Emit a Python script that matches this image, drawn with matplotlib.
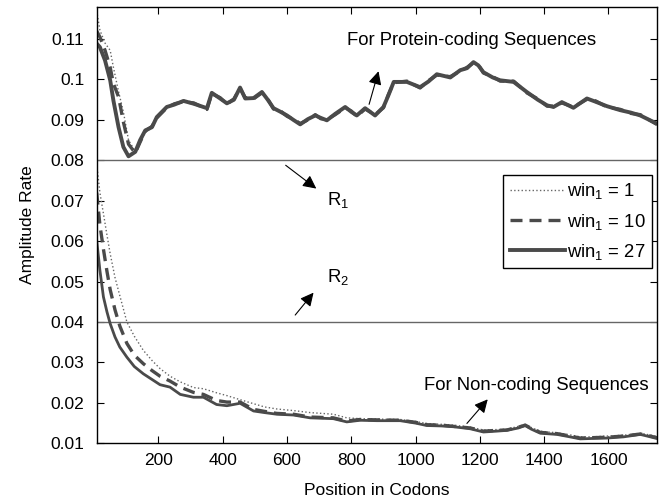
import matplotlib
matplotlib.use("Agg")
import matplotlib.pyplot as plt
from matplotlib.ticker import FormatStrFormatter

plt.rcParams["font.family"] = ["Liberation Sans", "DejaVu Sans"]
plt.rcParams["mathtext.fontset"] = "custom"
plt.rcParams["mathtext.rm"] = "Liberation Sans"

# protein-coding sequences (upper group)
pc_x = [8, 18, 34, 50, 60, 76, 91, 107, 128, 143, 159, 180, 195, 226, 250, 278, 310, 351,
        366, 392, 413, 435, 454, 470, 496, 522, 540, 558, 580, 600, 620, 641, 665, 688,
        705, 724, 750, 781, 800, 817, 843, 874, 900, 915, 932, 973, 1014, 1040, 1066,
        1108, 1139, 1160, 1180, 1195, 1211, 1240, 1263, 1305, 1346, 1380, 1409, 1429,
        1455, 1491, 1533, 1560, 1595, 1637, 1670, 1699, 1750]
pc_w27 = [0.1089, 0.1080, 0.1047, 0.0998, 0.0948, 0.0882, 0.0833, 0.0810, 0.0821, 0.0850,
          0.0874, 0.0882, 0.0907, 0.0932, 0.0938, 0.0947, 0.0940, 0.0929, 0.0967, 0.0953,
          0.0941, 0.0950, 0.0980, 0.0953, 0.0954, 0.0969, 0.0950, 0.0929, 0.0920, 0.0911,
          0.0900, 0.0889, 0.0902, 0.0911, 0.0905, 0.0899, 0.0915, 0.0932, 0.0920, 0.0911,
          0.0929, 0.0911, 0.0932, 0.0960, 0.0994, 0.0994, 0.0981, 0.0995, 0.1013, 0.1005,
          0.1023, 0.1028, 0.1043, 0.1035, 0.1018, 0.1005, 0.0998, 0.0994, 0.0969, 0.0950,
          0.0936, 0.0932, 0.0944, 0.0930, 0.0953, 0.0945, 0.0934, 0.0924, 0.0918, 0.0911,
          0.0891]
pc_w10 = [0.1120, 0.1105, 0.1072, 0.1030, 0.0990, 0.0957, 0.0895, 0.0840, 0.0818, 0.0845,
          0.0872, 0.0884, 0.0905, 0.0930, 0.0940, 0.0945, 0.0942, 0.0926, 0.0965, 0.0955,
          0.0939, 0.0952, 0.0978, 0.0955, 0.0952, 0.0967, 0.0952, 0.0927, 0.0922, 0.0909,
          0.0902, 0.0891, 0.0900, 0.0913, 0.0903, 0.0901, 0.0913, 0.0930, 0.0922, 0.0909,
          0.0927, 0.0913, 0.0930, 0.0962, 0.0992, 0.0996, 0.0979, 0.0997, 0.1011, 0.1007,
          0.1021, 0.1030, 0.1041, 0.1037, 0.1016, 0.1007, 0.0996, 0.0996, 0.0967, 0.0952,
          0.0934, 0.0934, 0.0942, 0.0932, 0.0951, 0.0947, 0.0932, 0.0926, 0.0916, 0.0913,
          0.0889]
pc_w1 = [0.1170, 0.1122, 0.1090, 0.1072, 0.1030, 0.0970, 0.0920, 0.0850, 0.0822, 0.0842,
         0.0870, 0.0886, 0.0903, 0.0934, 0.0936, 0.0949, 0.0938, 0.0931, 0.0969, 0.0951,
         0.0943, 0.0948, 0.0982, 0.0951, 0.0956, 0.0971, 0.0948, 0.0931, 0.0918, 0.0913,
         0.0898, 0.0891, 0.0904, 0.0909, 0.0907, 0.0897, 0.0917, 0.0934, 0.0918, 0.0913,
         0.0931, 0.0909, 0.0934, 0.0958, 0.0996, 0.0992, 0.0983, 0.0993, 0.1015, 0.1003,
         0.1025, 0.1026, 0.1045, 0.1033, 0.1020, 0.1003, 0.1000, 0.0992, 0.0971, 0.0948,
         0.0938, 0.0930, 0.0946, 0.0928, 0.0955, 0.0943, 0.0936, 0.0922, 0.0920, 0.0909,
         0.0893]

# non-coding sequences (lower group)
nc_x = [8, 18, 29, 40, 50, 65, 80, 102, 125, 153, 180, 205, 236, 268, 309, 340, 381, 413,
        454, 496, 530, 568, 620, 672, 744, 786, 827, 880, 952, 1000, 1035, 1080, 1118,
        1170, 1211, 1250, 1284, 1320, 1341, 1360, 1388, 1440, 1480, 1512, 1550, 1595,
        1647, 1699, 1720, 1750]
nc_w27 = [0.0602, 0.0528, 0.0462, 0.0425, 0.0396, 0.0363, 0.0338, 0.0313, 0.0290, 0.0272,
          0.0258, 0.0245, 0.0239, 0.0221, 0.0214, 0.0214, 0.0196, 0.0193, 0.0199, 0.0180,
          0.0176, 0.0172, 0.0170, 0.0163, 0.0161, 0.0153, 0.0157, 0.0156, 0.0156, 0.0150,
          0.0144, 0.0143, 0.0141, 0.0136, 0.0128, 0.0130, 0.0132, 0.0138, 0.0144, 0.0135,
          0.0125, 0.0122, 0.0116, 0.0111, 0.0112, 0.0113, 0.0116, 0.0122, 0.0118, 0.0112]
nc_w10 = [0.0720, 0.0640, 0.0580, 0.0525, 0.0480, 0.0430, 0.0390, 0.0347, 0.0318, 0.0297,
          0.0280, 0.0266, 0.0254, 0.0239, 0.0226, 0.0221, 0.0206, 0.0202, 0.0202, 0.0184,
          0.0179, 0.0174, 0.0172, 0.0165, 0.0163, 0.0155, 0.0159, 0.0158, 0.0157, 0.0152,
          0.0146, 0.0145, 0.0142, 0.0138, 0.0130, 0.0132, 0.0133, 0.0140, 0.0145, 0.0137,
          0.0127, 0.0124, 0.0118, 0.0113, 0.0114, 0.0115, 0.0118, 0.0123, 0.0120, 0.0114]
nc_w1 = [0.0790, 0.0720, 0.0668, 0.0615, 0.0569, 0.0510, 0.0465, 0.0400, 0.0365, 0.0330,
         0.0305, 0.0285, 0.0266, 0.0252, 0.0238, 0.0235, 0.0225, 0.0218, 0.0208, 0.0198,
         0.0190, 0.0185, 0.0181, 0.0176, 0.0172, 0.0163, 0.0161, 0.0160, 0.0159, 0.0154,
         0.0149, 0.0147, 0.0145, 0.0140, 0.0133, 0.0134, 0.0135, 0.0142, 0.0147, 0.0139,
         0.0130, 0.0126, 0.0121, 0.0116, 0.0116, 0.0118, 0.0120, 0.0125, 0.0122, 0.0117]

r1 = 0.08
r2 = 0.04
y_ticks = [0.01, 0.02, 0.03, 0.04, 0.05, 0.06, 0.07, 0.08, 0.09, 0.1, 0.11]
x_ticks = [200, 400, 600, 800, 1000, 1200, 1400, 1600]

fs = 12.5
fs_txt = 13.3
fig = plt.figure(figsize=(6.6, 4.98), dpi=100)
ax = fig.add_axes([0.1465, 0.1098, 0.8485, 0.8767])

col = "#4a4a4a"
ax.axhline(r1, color="#666666", lw=1.0)
ax.axhline(r2, color="#666666", lw=1.0)

ax.plot(pc_x, pc_w1, ls=":", color="#666666", lw=1.0, label="win$_1$ = 1")
ax.plot(pc_x, pc_w10, color=col, lw=2.4, dashes=(3.6, 2.1), label="win$_1$ = 10")
ax.plot(pc_x, pc_w27, color=col, lw=2.8, label="win$_1$ = 27")
ax.plot(nc_x, nc_w1, ls=":", color="#666666", lw=1.0)
ax.plot(nc_x, nc_w10, color=col, lw=2.4, dashes=(3.6, 2.1))
ax.plot(nc_x, nc_w27, color=col, lw=2.0)

ax.set_xlim(8, 1750)
ax.set_ylim(0.01, 0.118)
ax.set_xticks(x_ticks)
ax.set_yticks(y_ticks)
ax.yaxis.set_major_formatter(FormatStrFormatter("%g"))
ax.tick_params(direction="in", top=True, right=True, length=5, labelsize=fs, width=0.8)
ax.tick_params(axis="y", pad=9)
ax.tick_params(axis="x", pad=7)
for s in ax.spines.values():
    s.set_linewidth(1.0)

ax.set_xlabel("Position in Codons", fontsize=fs, labelpad=11)
ax.set_ylabel("Amplitude Rate", fontsize=fs, labelpad=11)

ap = dict(arrowstyle="-|>", color="k", lw=0.8, mutation_scale=20)
ax.text(786, 0.1097, "For Protein-coding Sequences", fontsize=fs_txt, va="center", ha="left")
ax.annotate("", xy=(887, 0.1027), xytext=(853, 0.0932), arrowprops=ap)
ax.text(725, 0.0701, "R$_1$", fontsize=fs_txt, va="center", ha="left")
ax.annotate("", xy=(698, 0.0726), xytext=(589, 0.0792), arrowprops=ap)
ax.text(725, 0.0511, "R$_2$", fontsize=fs_txt, va="center", ha="left")
ax.annotate("", xy=(688, 0.0478), xytext=(620, 0.0412), arrowprops=ap)
ax.text(1025, 0.0243, "For Non-coding Sequences", fontsize=fs_txt, va="center", ha="left")
ax.annotate("", xy=(1230, 0.0214), xytext=(1154, 0.0144), arrowprops=ap)

leg = ax.legend(loc="upper right", bbox_to_anchor=(0.992, 0.6145), borderaxespad=0,
                fontsize=fs_txt, handlelength=3.0, handletextpad=0.1, fancybox=False,
                framealpha=1, edgecolor="k", labelspacing=0.55, borderpad=0.35)
leg.get_frame().set_linewidth(1.0)

fig.savefig("out.png", dpi=100)
